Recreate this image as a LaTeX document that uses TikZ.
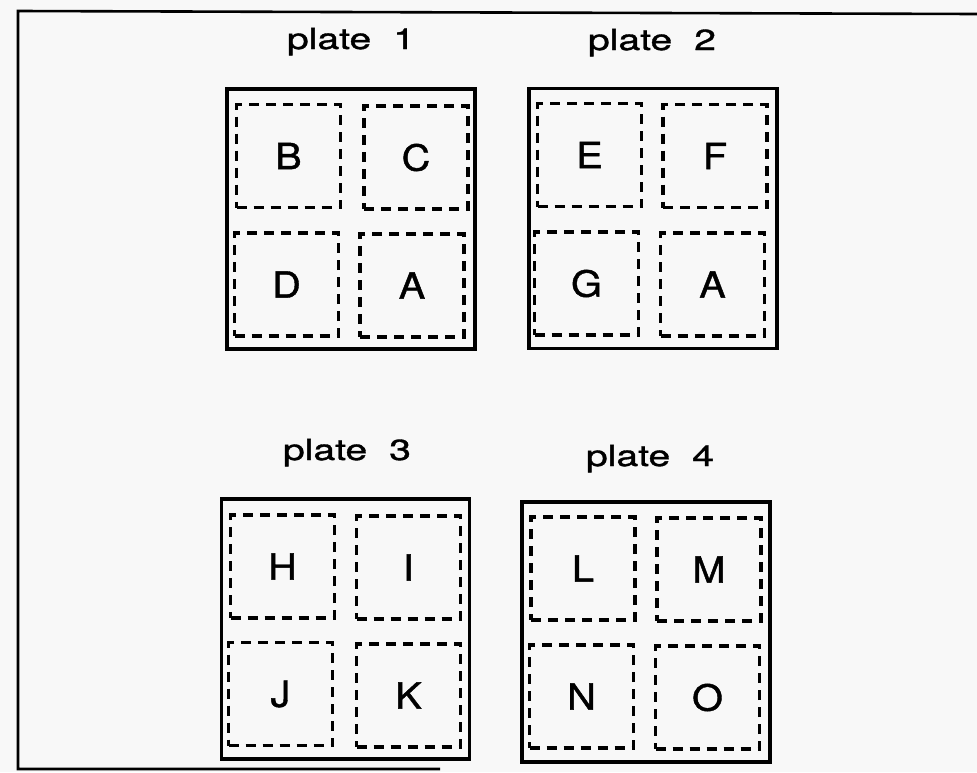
\documentclass[tikz,border=0pt]{standalone}
\usepackage{fontspec}
\newfontfamily\lblfont[FakeStretch=1.35,FakeBold=1.2]{TeX Gyre Heros}
\newfontfamily\cellfont[FakeStretch=1.1,FakeBold=1.2]{TeX Gyre Heros}
\definecolor{paper}{RGB}{248,248,248}
\begin{document}
\begin{tikzpicture}[x=1pt,y=-1pt,
  plate/.style={draw, line width=3.4pt, minimum width=248pt, minimum height=260pt, inner sep=0pt},
  cell/.style={draw, line width=3.4pt, dash pattern=on 10pt off 7pt, minimum width=104pt, minimum height=103pt, inner sep=0pt, font=\cellfont\fontsize{36}{36}\selectfont},
  title/.style={anchor=base, inner sep=0pt, font=\lblfont\fontsize{29}{30}\selectfont},
  frame/.style={line width=2.6pt}]
\fill[paper] (0,0) rectangle (977,772);
\useasboundingbox (0,0) rectangle (977,772);
% outer frame
\coordinate (fTR) at (977,14);
\coordinate (fTL) at (18,11);
\coordinate (fBL) at (18,769);
\coordinate (fBR) at (440,769);
\draw[frame] (fTR) -- (fTL) -- (fBL) -- (fBR);
% plate 1
\node[title] (t1) at (351,49) {plate\hspace{22pt}1};
\node[plate] (p1) at (351,219) {};
\node[cell] (p1B) at (288.5,156) {B};
\node[cell] (p1C) at (416,157.5) {C};
\node[cell] (p1D) at (286.5,284.5) {D};
\node[cell] (p1A) at (412,285.5) {A};
% plate 2
\node[title] (t2) at (652,50) {plate\hspace{22pt}2};
\node[plate] (p2) at (653,218.5) {};
\node[cell] (p2E) at (589.5,155) {E};
\node[cell] (p2F) at (715,156) {F};
\node[cell] (p2G) at (586.5,283.5) {G};
\node[cell] (p2A) at (712.5,284.5) {A};
% plate 3
\node[title] (t3) at (347,460) {plate\hspace{22pt}3};
\node[plate] (p3) at (345.5,629) {};
\node[cell] (p3H) at (282.5,566.5) {H};
\node[cell] (p3I) at (408.5,567.5) {I};
\node[cell] (p3J) at (280.5,694) {J};
\node[cell] (p3K) at (408.5,695.5) {K};
% plate 4
\node[title] (t4) at (650,466) {plate\hspace{22pt}4};
\node[plate] (p4) at (646,632) {};
\node[cell] (p4L) at (583,568.5) {L};
\node[cell] (p4M) at (709,569.5) {M};
\node[cell] (p4N) at (581.5,696.5) {N};
\node[cell] (p4O) at (707.5,697.5) {O};
\end{tikzpicture}
\end{document}
